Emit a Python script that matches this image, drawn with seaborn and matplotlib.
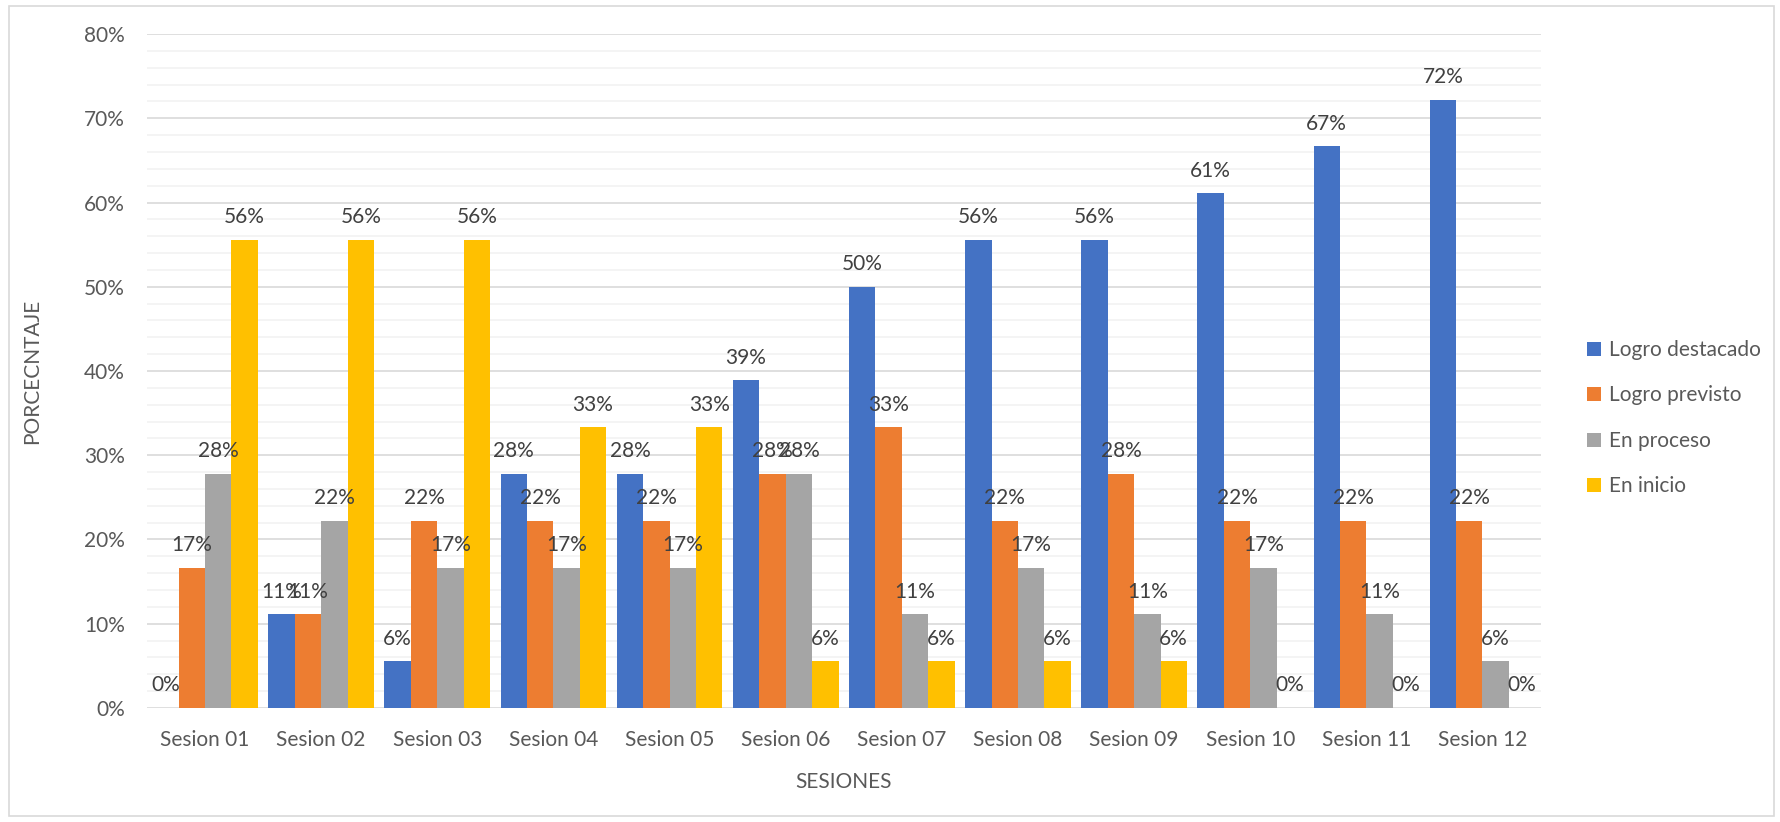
import matplotlib
matplotlib.use("Agg")
import matplotlib.pyplot as plt
import seaborn as sns
import pandas as pd
from matplotlib.patches import Rectangle
from matplotlib.ticker import MultipleLocator, PercentFormatter

sessions = ["Sesion 01", "Sesion 02", "Sesion 03", "Sesion 04", "Sesion 05", "Sesion 06",
            "Sesion 07", "Sesion 08", "Sesion 09", "Sesion 10", "Sesion 11", "Sesion 12"]
series = ["Logro destacado", "Logro previsto", "En proceso", "En inicio"]
logro_destacado = [0.00, 11.11, 5.56, 27.78, 27.78, 38.89, 50.00, 55.56, 55.56, 61.11, 66.67, 72.22]
logro_previsto = [16.67, 11.11, 22.22, 22.22, 22.22, 27.78, 33.33, 22.22, 27.78, 22.22, 22.22, 22.22]
en_proceso = [27.78, 22.22, 16.67, 16.67, 16.67, 27.78, 11.11, 16.67, 11.11, 16.67, 11.11, 5.56]
en_inicio = [55.56, 55.56, 55.56, 33.33, 33.33, 5.56, 5.56, 5.56, 5.56, 0.00, 0.00, 0.00]
colors = ["#4472C4", "#ED7D31", "#A5A5A5", "#FFC000"]

rows = []
for name, vals in zip(series, [logro_destacado, logro_previsto, en_proceso, en_inicio]):
    for s, v in zip(sessions, vals):
        rows.append({"Sesion": s, "Serie": name, "Valor": v})
df = pd.DataFrame(rows)

sns.set_theme(style="white")
plt.rcParams["font.family"] = ["Lato", "DejaVu Sans"]

fig = plt.figure(figsize=(17.81, 8.22), dpi=100)
ax = fig.add_axes([0.0825, 0.1387, 0.865 - 0.0825, 0.9586 - 0.1387])

sns.barplot(data=df, x="Sesion", y="Valor", hue="Serie", order=sessions, hue_order=series,
            palette=colors, width=0.91, ax=ax, errorbar=None, saturation=1, linewidth=0)

for cont in ax.containers:
    ax.bar_label(cont, labels=[f"{b.get_height():.0f}%" for b in cont], padding=9,
                 fontsize=15, color="#404040")

ax.set_ylim(0, 80)
ax.set_xlim(-0.5, len(sessions) - 0.5)
ax.yaxis.set_major_locator(MultipleLocator(10))
ax.yaxis.set_minor_locator(MultipleLocator(2))
ax.yaxis.set_major_formatter(PercentFormatter(decimals=0))
ax.grid(which="minor", axis="y", color="#F2F2F2", linewidth=1.2)
ax.grid(which="major", axis="y", color="#D9D9D9", linewidth=1.2)
ax.set_axisbelow(True)
for sp in ax.spines.values():
    sp.set_visible(False)
ax.tick_params(axis="both", which="both", length=0, labelsize=15, labelcolor="#595959")
ax.tick_params(axis="y", pad=16)
ax.tick_params(axis="x", pad=16)
ax.set_xlabel("SESIONES", fontsize=15, color="#595959", labelpad=16)
ax.set_ylabel("PORCECNTAJE", fontsize=15, color="#595959", labelpad=30)

ax.legend(loc="center left", bbox_to_anchor=(1.02, 0.43), frameon=False, fontsize=15,
          labelcolor="#595959", handlelength=0.65, handleheight=0.65, handletextpad=0.4,
          labelspacing=1.22)

fig.patches.append(Rectangle((9 / 1781, 6 / 822), 1 - 16 / 1781, 1 - 12 / 822,
                             transform=fig.transFigure, fill=False, edgecolor="#D9D9D9",
                             linewidth=1.2))

fig.savefig("out.png", dpi=100)
